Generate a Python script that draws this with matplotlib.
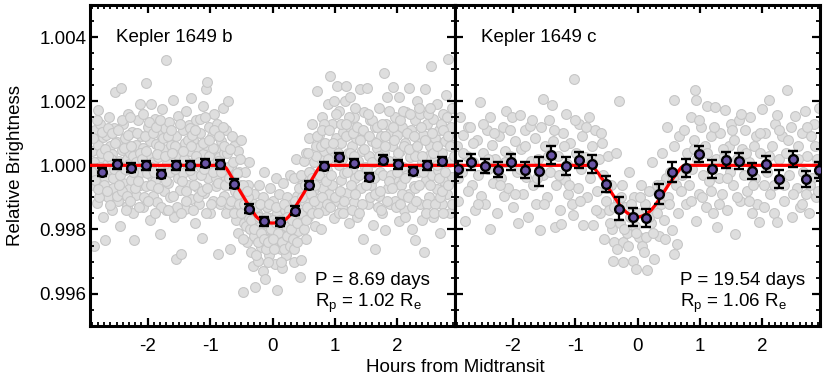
import matplotlib
matplotlib.use("Agg")
import matplotlib.pyplot as plt
from matplotlib.ticker import MultipleLocator, FormatStrFormatter
import numpy as np

plt.rcParams['font.family'] = ['Liberation Sans', 'DejaVu Sans']
plt.rcParams['mathtext.fontset'] = 'custom'
plt.rcParams['mathtext.rm'] = 'Liberation Sans'
plt.rcParams['mathtext.it'] = 'Liberation Sans'
plt.rcParams['axes.unicode_minus'] = False

# ---------------- data (brightness offsets in units of 1e-5) ----------------
panel_titles = ["Kepler 1649 b", "Kepler 1649 c"]
panel_notes = [("P = 8.69 days", r"R$_\mathrm{p}$ = 1.02 R$_\mathrm{e}$"),
               ("P = 19.54 days", r"R$_\mathrm{p}$ = 1.06 R$_\mathrm{e}$")]

# binned points, planet b
bin_b_x = [-2.73, -2.49, -2.26, -2.02, -1.79, -1.55, -1.32, -1.08, -0.84, -0.61, -0.37, -0.13,
           0.12, 0.36, 0.59, 0.83, 1.07, 1.30, 1.54, 1.77, 2.01, 2.25, 2.48, 2.72]
bin_b_y = [-21, 3, -7, 0, -26, 0, 0, 7, 3, -57, -135, -175,
           -177, -141, -62, -3, 26, 7, -36, 18, 3, -18, 0, 13]
bin_b_err = [13] * 24

# binned points, planet c
bin_c_x = [-2.87, -2.67, -2.44, -2.23, -2.02, -1.81, -1.58, -1.38, -1.15, -0.94, -0.73, -0.51,
           -0.30, -0.075, 0.13, 0.35, 0.55, 0.78, 0.99, 1.20, 1.42, 1.63, 1.84, 2.06, 2.27,
           2.49, 2.70, 2.91]
bin_c_y = [-10, 10, -3, -13, 10, -13, -18, 31, -3, 18, 5, -57,
           -135, -162, -164, -89, -21, -7, 34, -10, 16, 13, -18, 5, -42,
           21, -42, -13]
bin_c_err = [25, 25, 22, 22, 25, 25, 45, 28, 28, 25, 28, 25,
             35, 28, 28, 30, 30, 28, 25, 28, 25, 25, 25, 25, 28,
             25, 25, 25]

# transit model curves
model_b_x = [-2.95, -0.80, -0.77, -0.74, -0.71, -0.68, -0.64, -0.60, -0.50, -0.40, -0.36, -0.32,
             -0.29, -0.26, -0.22, -0.18, -0.13, -0.07, 0.0,
             0.07, 0.13, 0.18, 0.22, 0.26, 0.29, 0.32, 0.36, 0.40, 0.50, 0.60, 0.64, 0.68,
             0.71, 0.74, 0.77, 0.80, 2.95]
model_b_y = [0, 0, -3, -9, -18, -28, -41, -55, -87, -119, -131, -143,
             -152, -160, -167, -172, -176, -179, -180,
             -179, -176, -172, -167, -160, -152, -143, -131, -119, -87, -55, -41, -28,
             -18, -9, -3, 0, 0]
model_c_x = [-2.95, -0.76, -0.73, -0.70, -0.67, -0.63, -0.58, -0.50, -0.42, -0.34, -0.28, -0.23,
             -0.18, -0.12, -0.06, 0.0,
             0.06, 0.12, 0.18, 0.23, 0.28, 0.34, 0.42, 0.50, 0.58, 0.63, 0.67, 0.70, 0.73,
             0.76, 2.95]
model_c_y = [0, 0, -2, -7, -14, -24, -38, -60, -84, -108, -125, -137,
             -146, -154, -159, -162,
             -159, -154, -146, -137, -125, -108, -84, -60, -38, -24, -14, -7, -2,
             0, 0]

# individual (unbinned) measurements: (hours, offset)
grey_b = [
    (-2.89, 45), (-2.88, -62), (-2.86, -250), (-2.85, 110), (-2.83, 12), (-2.81, -118), (-2.80, 174),
    (-2.79, 62), (-2.77, -30), (-2.76, 130), (-2.74, -85), (-2.73, 20), (-2.72, -160), (-2.71, 88),
    (-2.69, -40), (-2.68, -232), (-2.67, 95), (-2.65, 5), (-2.64, -98), (-2.62, 150), (-2.61, -12),
    (-2.60, 60), (-2.58, -140), (-2.57, 35), (-2.55, -70), (-2.54, 118), (-2.52, 229), (-2.51, -25),
    (-2.49, 72), (-2.48, -110), (-2.46, 15), (-2.45, -190), (-2.43, 240), (-2.42, 48), (-2.40, -55),
    (-2.39, 130), (-2.37, -15), (-2.36, 85), (-2.34, -128), (-2.33, 20), (-2.31, 160), (-2.30, -75),
    (-2.28, 40), (-2.27, -45), (-2.25, 105), (-2.24, -150), (-2.22, -234), (-2.21, 0), (-2.19, 65),
    (-2.18, -92), (-2.16, 140), (-2.15, 28), (-2.13, -60), (-2.12, 190), (-2.11, -20), (-2.10, 90),
    (-2.08, -130), (-2.07, 55), (-2.05, -8), (-2.03, 258), (-2.02, -65), (-2.00, 120), (-1.99, 30),
    (-1.97, -170), (-1.96, 75), (-1.94, 190), (-1.93, -35), (-1.92, 10), (-1.91, -95),
    (-1.89, 145), (-1.88, -50), (-1.86, 68), (-1.85, -115), (-1.83, 25), (-1.81, 98), (-1.80, -213),
    (-1.78, -18), (-1.77, 175), (-1.75, 50), (-1.74, -80), (-1.72, 115), (-1.71, -140), (-1.70, 330),
    (-1.69, 8), (-1.67, -55), (-1.66, 135), (-1.64, -100), (-1.63, 62), (-1.61, -15), (-1.60, 205),
    (-1.58, -160), (-1.57, 38), (-1.55, -293), (-1.54, 92), (-1.52, -40), (-1.51, 155),
    (-1.49, -78), (-1.47, 20), (-1.46, -276), (-1.44, 110), (-1.43, -25), (-1.41, 70), (-1.40, -135),
    (-1.38, 168), (-1.37, 5), (-1.35, -60), (-1.34, 125), (-1.32, 45), (-1.31, -105), (-1.30, 210),
    (-1.28, -30), (-1.27, 80), (-1.25, -180), (-1.24, 18), (-1.22, 142), (-1.21, -68), (-1.19, 55),
    (-1.18, -120), (-1.16, 100), (-1.15, -5), (-1.13, -226), (-1.12, 185), (-1.11, 35),
    (-1.09, -85), (-1.07, 65), (-1.06, 237), (-1.05, 260), (-1.03, -40), (-1.02, 120), (-1.00, -150),
    (-0.99, 10), (-0.97, 90), (-0.96, -110), (-0.94, 160), (-0.93, -20), (-0.91, 48), (-0.90, -65),
    (-0.89, 130), (-0.87, -276), (-0.86, 25), (-0.84, -120), (-0.83, 75), (-0.81, -30), (-0.80, 180),
    (-0.78, -95), (-0.77, 40), (-0.75, -150), (-0.74, 110), (-0.72, -10), (-0.71, 200), (-0.70, -60),
    (-0.68, -260), (-0.67, -5), (-0.65, 90), (-0.64, -120), (-0.62, -40), (-0.61, 60), (-0.59, -170),
    (-0.58, -75), (-0.56, 45), (-0.55, -210), (-0.53, -20), (-0.52, -140), (-0.51, 80),
    (-0.49, -95), (-0.47, -396), (-0.46, -180), (-0.44, -20), (-0.43, -130), (-0.41, -240), (-0.40, -60),
    (-0.38, -165), (-0.37, 10), (-0.35, -270), (-0.34, -110), (-0.33, -200), (-0.31, -313), (-0.30, -145),
    (-0.29, -90), (-0.28, -380), (-0.26, -220), (-0.25, -150), (-0.23, -297), (-0.22, -60), (-0.20, -190),
    (-0.19, -255), (-0.17, -120), (-0.16, -330), (-0.14, -170), (-0.13, -20), (-0.12, -354), (-0.10, -230),
    (-0.09, -130), (-0.07, -200), (-0.06, -280), (-0.04, -70), (-0.03, -165), (-0.01, -245), (0.00, -110),
    (0.02, -190), (0.04, -307), (0.05, -40), (0.07, -390), (0.08, -150), (0.10, -225),
    (0.11, -90), (0.13, -260), (0.14, -175), (0.16, -320), (0.17, -55), (0.19, -210), (0.20, -140),
    (0.22, -280), (0.23, -100), (0.25, -195), (0.26, -250), (0.28, -30), (0.29, -160),
    (0.31, -230), (0.32, -120), (0.34, -40), (0.35, -300), (0.37, -160), (0.38, 20), (0.40, -95),
    (0.41, -205), (0.43, -130), (0.44, -349), (0.45, -295), (0.47, -60), (0.48, -170), (0.50, 15),
    (0.51, -110), (0.53, -230), (0.54, 40), (0.56, -50), (0.57, -160), (0.59, 85), (0.60, -20),
    (0.62, -135), (0.63, 130), (0.65, -80), (0.66, 10), (0.68, -190), (0.69, 60),
    (0.71, -40), (0.72, 232), (0.74, -120), (0.75, 95), (0.77, -198), (0.78, 20), (0.80, 150),
    (0.81, -70), (0.83, 45), (0.84, -140), (0.86, 115), (0.87, -15), (0.89, 190), (0.90, -90),
    (0.92, 280), (0.93, 50), (0.95, -60), (0.96, 130), (0.98, -165), (0.99, 25), (1.01, 85),
    (1.03, 247), (1.04, -110), (1.06, 0), (1.07, 170), (1.09, -45), (1.10, 70),
    (1.11, -130), (1.13, 105), (1.14, -25), (1.16, 200), (1.18, 247), (1.19, -85), (1.21, 40),
    (1.22, -180), (1.24, 213), (1.25, 120), (1.27, -10), (1.28, 60), (1.30, -115),
    (1.31, 150), (1.33, -40), (1.34, 85), (1.36, -160), (1.37, 15), (1.39, 110), (1.40, 237),
    (1.42, -70), (1.43, 45), (1.45, -230), (1.46, 165), (1.48, -5), (1.49, 95),
    (1.52, 240), (1.53, -120), (1.55, 30), (1.56, 140), (1.58, -60), (1.59, 75), (1.61, -185),
    (1.62, 10), (1.64, -260), (1.65, 120), (1.67, -30), (1.68, 55), (1.70, -95),
    (1.71, 180), (1.73, -20), (1.74, 90), (1.76, -150), (1.78, 289), (1.79, 40), (1.80, -203),
    (1.82, 130), (1.83, 212), (1.85, -70), (1.86, 15), (1.88, 100), (1.89, -120),
    (1.91, 60), (1.93, 243), (1.94, -40), (1.96, 150), (1.97, -110), (1.99, 20), (2.00, 95),
    (2.02, 213), (2.03, -175), (2.05, 45), (2.06, -60), (2.08, 120), (2.09, -5),
    (2.11, -140), (2.13, 70), (2.14, 165), (2.16, -30), (2.18, 240), (2.19, -90), (2.21, 25),
    (2.22, 110), (2.24, -200), (2.25, 50), (2.27, -65), (2.28, 140), (2.29, -232),
    (2.31, 200), (2.33, -20), (2.34, 80), (2.36, -120), (2.37, 160), (2.39, 10), (2.40, -170),
    (2.42, 95), (2.43, -269), (2.44, 237), (2.46, -45), (2.47, 130), (2.49, 30),
    (2.51, -100), (2.52, 60), (2.54, 310), (2.55, -30), (2.57, 145), (2.58, -160), (2.60, 20),
    (2.61, 85), (2.63, -75), (2.64, 190), (2.66, -15), (2.67, 110), (2.69, -210),
    (2.71, 40), (2.72, -120), (2.74, 160), (2.75, -50), (2.77, 75), (2.78, 220), (2.80, -90),
    (2.82, 333), (2.83, 10), (2.85, -150), (2.86, 120), (2.88, -35), (2.90, 65),
    # denser core of the cloud
    (-2.90, -20), (-2.87, 85), (-2.84, -45), (-2.82, 140), (-2.78, -100), (-2.75, 40), (-2.73, 105),
    (-2.70, -60), (-2.86, 10), (-2.80, -75), (-2.76, -5),
    (-2.68, 50), (-2.66, -80), (-2.63, 115), (-2.61, -125), (-2.59, 20), (-2.56, -40), (-2.53, 70),
    (-2.50, -95), (-2.64, 30), (-2.58, 100), (-2.54, -10),
    (-2.47, 110), (-2.44, -30), (-2.41, -80), (-2.38, 55), (-2.35, -140), (-2.32, 95), (-2.30, 5),
    (-2.46, -60), (-2.42, 140), (-2.36, -10), (-2.33, -95),
    (-2.29, -110), (-2.26, 60), (-2.23, 30), (-2.20, -70), (-2.17, 100), (-2.14, -130), (-2.12, 40),
    (-2.28, 150), (-2.24, -20), (-2.18, 10), (-2.15, -50),
    (-2.09, 20), (-2.06, -100), (-2.04, 90), (-2.01, -25), (-1.98, 135), (-1.95, -60), (-1.92, 100),
    (-2.07, 160), (-2.02, 45), (-1.99, -110), (-1.94, -5),
    (-1.90, -20), (-1.87, 120), (-1.84, -70), (-1.82, 60), (-1.79, -130), (-1.76, 85), (-1.73, -25),
    (-1.89, -150), (-1.85, 35), (-1.80, 140), (-1.72, 30),
    (-1.70, -50), (-1.68, 90), (-1.65, -20), (-1.62, 110), (-1.59, -95), (-1.56, 60), (-1.53, -130),
    (-1.50, 25), (-1.67, -140), (-1.61, 40), (-1.57, -10),
    (-1.48, 130), (-1.45, -50), (-1.42, 20), (-1.39, -110), (-1.36, 80), (-1.33, -15), (-1.30, 60),
    (-1.47, -150), (-1.44, 45), (-1.38, -80), (-1.32, 115),
    (-1.29, 95), (-1.26, -60), (-1.23, 30), (-1.20, -100), (-1.17, 145), (-1.14, -30), (-1.11, 70),
    (-1.27, -140), (-1.24, 110), (-1.18, 10), (-1.13, -80),
    (-1.10, -10), (-1.08, 150), (-1.05, -70), (-1.02, 30), (-0.99, -120), (-0.96, 55), (-0.93, 110),
    (-0.90, -40), (-1.07, -150), (-1.01, 80), (-0.95, -20),
    (-0.88, -55), (-0.85, 90), (-0.82, -20), (-0.79, 120), (-0.76, -60), (-0.73, 40), (-0.70, -120),
    (-0.87, 15), (-0.83, -110), (-0.78, 60), (-0.72, -5),
    (-0.69, -40), (-0.66, -110), (-0.63, 10), (-0.60, -80), (-0.57, -25), (-0.54, -120), (-0.51, -60),
    (-0.68, 50), (-0.62, -150), (-0.56, -90), (-0.52, 20),
    (-0.50, -150), (-0.48, -60), (-0.45, -120), (-0.42, -190), (-0.39, -100), (-0.36, -200), (-0.33, -140),
    (-0.30, -220), (-0.47, -230), (-0.41, -80), (-0.35, -170),
    (-0.29, -200), (-0.27, -130), (-0.24, -240), (-0.21, -160), (-0.18, -210), (-0.15, -100), (-0.12, -180),
    (-0.11, -260), (-0.26, -280), (-0.20, -120), (-0.14, -230),
    (-0.10, -160), (-0.08, -240), (-0.05, -120), (-0.02, -200), (0.01, -170), (0.03, -260), (0.06, -130),
    (0.09, -210), (-0.07, -300), (0.00, -230), (0.05, -180),
    (0.12, -170), (0.15, -240), (0.18, -120), (0.21, -190), (0.24, -220), (0.27, -140), (0.30, -200),
    (0.13, -300), (0.19, -260), (0.23, -160), (0.28, -250),
    (0.31, -170), (0.33, -230), (0.36, -110), (0.39, -180), (0.42, -70), (0.45, -150), (0.48, -100),
    (0.50, -200), (0.34, -260), (0.40, -240), (0.46, -30),
    (0.52, -60), (0.55, -130), (0.58, -20), (0.61, -90), (0.64, -40), (0.67, -110), (0.70, 30),
    (0.53, -170), (0.57, 40), (0.63, -150), (0.68, -60),
    (0.71, 90), (0.74, -30), (0.77, 60), (0.80, -100), (0.83, 130), (0.86, -50), (0.89, 20),
    (0.73, -150), (0.79, 110), (0.84, 70), (0.88, -120),
    (0.91, 110), (0.94, -30), (0.97, 70), (1.00, -100), (1.02, 160), (1.05, 40), (1.08, -80),
    (1.10, 130), (0.92, -130), (0.99, 200), (1.06, -150),
    (1.12, 20), (1.15, -110), (1.17, 90), (1.20, -20), (1.23, 150), (1.26, -60), (1.29, 100),
    (1.13, -150), (1.18, 130), (1.24, 40), (1.28, -140),
    (1.30, 30), (1.32, -90), (1.35, 120), (1.38, -30), (1.41, 80), (1.44, -120), (1.47, 50),
    (1.50, -60), (1.33, 180), (1.39, -150), (1.45, 110),
    (1.51, -10), (1.54, 90), (1.57, -100), (1.60, 140), (1.63, -40), (1.66, 70), (1.69, -130),
    (1.53, 160), (1.59, 10), (1.64, -90), (1.68, 120),
    (1.70, 30), (1.72, -80), (1.75, 130), (1.77, -30), (1.81, 60), (1.84, -110), (1.87, 170),
    (1.90, -30), (1.74, -140), (1.80, 90), (1.86, -50),
    (1.92, -70), (1.95, 80), (1.98, -130), (2.01, 40), (2.04, 140), (2.07, -90), (2.10, 60),
    (1.93, 120), (1.99, -20), (2.05, -120), (2.09, 170),
    (2.12, -40), (2.15, 100), (2.17, -100), (2.20, 160), (2.23, -20), (2.26, 90), (2.29, 30),
    (2.13, -160), (2.19, 50), (2.24, -130), (2.28, -70),
    (2.30, -110), (2.32, 60), (2.35, -60), (2.38, 120), (2.41, -20), (2.44, 80), (2.47, -120),
    (2.50, 160), (2.34, 180), (2.40, 30), (2.46, -150),
    (2.52, -60), (2.55, 100), (2.58, 40), (2.61, -120), (2.64, 60), (2.67, -40), (2.70, 130),
    (2.53, 180), (2.59, -150), (2.63, 0), (2.68, -100),
    (2.71, -80), (2.73, 110), (2.76, -20), (2.79, 150), (2.82, -60), (2.85, 60), (2.88, -120),
    (2.91, 30), (2.74, -150), (2.81, 90), (2.87, 180),
]

grey_c = [
    (-2.90, 60), (-2.87, -110), (-2.85, 150), (-2.82, -20), (-2.79, 95), (-2.76, -175), (-2.74, 30), (-2.71, 120),
    (-2.68, 120), (-2.66, -60), (-2.63, 10), (-2.60, -140), (-2.57, 80), (-2.55, -30), (-2.52, 198), (-2.51, -95),
    (-2.48, 40), (-2.45, -120), (-2.42, 110), (-2.40, -10), (-2.37, -200), (-2.36, 151), (-2.33, 65), (-2.31, -55),
    (-2.28, 20), (-2.25, -150), (-2.22, 90), (-2.19, -40), (-2.16, 120), (-2.14, -95), (-2.12, 45), (-2.10, 170),
    (-2.07, -70), (-2.04, 30), (-2.01, 151), (-1.99, -130), (-1.96, 75), (-1.93, -20), (-1.89, 156), (-1.91, -180),
    (-1.87, 50), (-1.84, -90), (-1.81, 110), (-1.78, -35), (-1.75, -160), (-1.72, 122), (-1.71, 15),
    (-1.68, -60), (-1.65, 85), (-1.62, -120), (-1.59, 20), (-1.56, -203), (-1.54, 120), (-1.51, 208), (-1.52, -30),
    (-1.48, 60), (-1.45, -100), (-1.42, 140), (-1.40, -20), (-1.37, 187), (-1.35, 75), (-1.33, -193), (-1.31, -60),
    (-1.28, 30), (-1.25, -140), (-1.22, -182), (-1.20, 100), (-1.17, -45), (-1.15, 160), (-1.13, 5), (-1.11, -90),
    (-1.08, 70), (-1.05, -120), (-1.03, -156), (-1.02, 268), (-0.99, 40), (-0.96, -70), (-0.94, 130), (-0.91, -10),
    (-0.89, 90), (-0.87, -187), (-0.84, 25), (-0.81, -100), (-0.78, 150), (-0.76, -40), (-0.73, 60), (-0.71, -187),
    (-0.68, 110), (-0.65, -80), (-0.62, 20), (-0.60, -150), (-0.57, 70), (-0.55, -30), (-0.53, -229), (-0.51, -110),
    (-0.48, 30), (-0.46, -140), (-0.43, -60), (-0.41, -200), (-0.40, -297), (-0.38, -240), (-0.35, 40), (-0.32, -110),
    (-0.30, 201),
    (-0.28, -180), (-0.25, -60), (-0.24, -302), (-0.23, -240), (-0.20, -130), (-0.17, -210), (-0.14, -20), (-0.12, -160),
    (-0.08, -297), (-0.06, -100), (-0.04, -190), (-0.02, -323), (0.01, -150), (0.03, -224), (0.06, -60), (0.08, -250),
    (0.12, -120), (0.14, -224), (0.16, -326), (0.19, -80), (0.21, -180), (0.24, 10), (0.27, -292), (0.29, -140),
    (0.32, -60), (0.35, -219), (0.37, -120), (0.40, 40), (0.43, -170), (0.45, -40), (0.48, 120), (0.49, -100),
    (0.52, -20), (0.56, -201), (0.58, 60), (0.59, -276), (0.59, 203), (0.62, -60), (0.64, -245), (0.67, 90),
    (0.72, -30), (0.75, 110), (0.78, -120), (0.80, 40), (0.83, -60), (0.86, 150), (0.88, -10), (0.90, 80),
    (0.92, 234), (0.93, -172), (0.93, 205), (0.96, 20), (0.99, -90), (1.02, 120), (1.05, -30), (1.08, 60), (1.10, -130),
    (1.12, 184), (1.15, -50), (1.18, 90), (1.21, -150), (1.25, 182), (1.26, 20), (1.28, -193), (1.30, -40),
    (1.33, 100), (1.36, -90), (1.39, 30), (1.41, 172), (1.44, -140), (1.46, 60), (1.48, -20), (1.50, 130),
    (1.53, -60), (1.55, 80), (1.57, -213), (1.60, 20), (1.63, 140), (1.65, -110), (1.68, 50), (1.70, -30),
    (1.72, 110), (1.75, -80), (1.78, 10), (1.81, 150), (1.83, -150), (1.86, 60), (1.88, -40), (1.90, 90),
    (1.92, -120), (1.94, -177), (1.97, 40), (2.00, 177), (2.02, -60), (2.05, 100), (2.08, -20), (2.10, 203),
    (2.13, -90), (2.16, 60), (2.19, -150), (2.21, 130), (2.24, 156), (2.24, -177), (2.27, 20), (2.29, -50),
    (2.32, 90), (2.35, -110), (2.38, 40), (2.40, 234), (2.43, -30), (2.46, 120), (2.48, -160), (2.50, 10),
    (2.53, 153), (2.55, -70), (2.58, 60), (2.61, -130), (2.63, 100), (2.66, -20), (2.68, 170), (2.70, -90),
    (2.72, 30), (2.75, -150), (2.78, 90), (2.80, -40), (2.83, 130), (2.86, -100), (2.88, 20), (2.91, 180),
    # additional measurements
    (-2.88, -40), (-2.80, 40), (-2.72, -80), (-2.64, 70), (-2.56, -120), (-2.47, 130), (-2.39, 20),
    (-2.30, 100), (-2.21, -60), (-2.13, 10), (-2.05, 110), (-1.97, -90), (-1.88, -10), (-1.80, 60),
    (-1.69, 140), (-1.61, -40), (-1.50, -120), (-1.43, 30), (-1.34, 110), (-1.26, -30), (-1.18, 60),
    (-1.09, -60), (-1.00, 140), (-0.92, -110), (-0.83, 120), (-0.75, 10), (-0.66, -140), (-0.58, 100),
    (-0.49, -70), (-0.44, -180), (-0.37, -130), (-0.33, -260), (-0.27, -100), (-0.21, -200), (-0.16, -250),
    (-0.10, -120), (-0.03, -210), (0.04, -100), (0.10, -270), (0.18, -160), (0.25, -210), (0.31, -150),
    (0.38, -60), (0.44, -230), (0.51, -120), (0.57, -40), (0.65, -150), (0.70, -80), (0.77, -10),
    (0.85, -110), (0.91, 50), (0.98, 140), (1.04, -100), (1.11, 40), (1.17, -80), (1.23, 120),
    (1.31, -120), (1.37, 50), (1.43, -40), (1.52, 110), (1.59, -100), (1.66, 160), (1.74, 40),
    (1.79, -110), (1.85, -60), (1.96, 100), (2.03, -130), (2.11, 30), (2.18, -60), (2.26, 110),
    (2.34, -60), (2.41, 80), (2.49, -90), (2.57, 20), (2.64, -120), (2.71, 120), (2.77, -60),
    (2.84, 60), (2.90, -80),
]

x_label = "Hours from Midtransit"
y_label = "Relative Brightness"

# ---------------- figure ----------------
W, H = 830, 381
fig = plt.figure(figsize=(W / 100, H / 100), dpi=100)

def ax_rect(x0, x1, y0, y1):
    return [x0 / W, 1 - y1 / H, (x1 - x0) / W, (y1 - y0) / H]

ax_b = fig.add_axes(ax_rect(90, 455, 5, 325.7))
ax_c = fig.add_axes(ax_rect(455, 820, 5, 325.7))

def to_flux(v):
    return 1.0 + np.asarray(v, dtype=float) * 1e-5

panels = [
    (ax_b, grey_b, bin_b_x, bin_b_y, bin_b_err, model_b_x, model_b_y),
    (ax_c, grey_c, bin_c_x, bin_c_y, bin_c_err, model_c_x, model_c_y),
]

purple = '#6a55a6'
for i, (ax, grey, bx, by, be, mx, my) in enumerate(panels):
    gx = [p[0] for p in grey]
    gy = to_flux([p[1] for p in grey])
    ax.scatter(gx, gy, s=50, facecolor='#dedede', edgecolor='#c6c6c6', linewidths=0.8, zorder=1)
    ax.plot(mx, to_flux(my), color='#ff0000', lw=2.3, zorder=3,
            solid_joinstyle='round', solid_capstyle='round')
    ax.errorbar(bx, to_flux(by), yerr=np.asarray(be) * 1e-5, fmt='o', ms=6.3,
                mfc=purple, mec='black', mew=1.7, ecolor='black', elinewidth=1.6,
                capsize=3.4, capthick=2.0, zorder=4)
    ax.set_xlim(-2.925, 2.925)
    ax.set_ylim(0.995, 1.005)
    ax.xaxis.set_major_locator(MultipleLocator(1))
    ax.xaxis.set_minor_locator(MultipleLocator(0.1))
    ax.yaxis.set_major_locator(MultipleLocator(0.002))
    ax.yaxis.set_minor_locator(MultipleLocator(0.0005))
    ax.yaxis.set_major_formatter(FormatStrFormatter('%.3f'))
    ax.tick_params(which='both', direction='in', top=True, right=True, labelsize=13.5)
    ax.tick_params(which='major', length=6, width=1.6)
    ax.tick_params(which='minor', length=3, width=1.3)
    ax.tick_params(axis='x', which='major', pad=9)
    ax.tick_params(axis='y', which='major', pad=2.5)
    for sp in ax.spines.values():
        sp.set_linewidth(2.2)
    ax.text(0.071, 0.925, panel_titles[i], transform=ax.transAxes, fontsize=13.5,
            ha='left', va='top')
    ax.text(0.616, 0.127, panel_notes[i][0], transform=ax.transAxes, fontsize=13.5,
            ha='left', va='baseline')
    ax.text(0.616, 0.058, panel_notes[i][1], transform=ax.transAxes, fontsize=13.5,
            ha='left', va='baseline')

ax_c.tick_params(axis='y', labelleft=False)

fig.text(455 / W, 1 - 372 / H, x_label, ha='center', va='baseline', fontsize=13.5)
fig.text(16 / W, 1 - 165 / H, y_label, ha='center', va='center', rotation=90, fontsize=13.5)

fig.savefig('out.png', dpi=100)
